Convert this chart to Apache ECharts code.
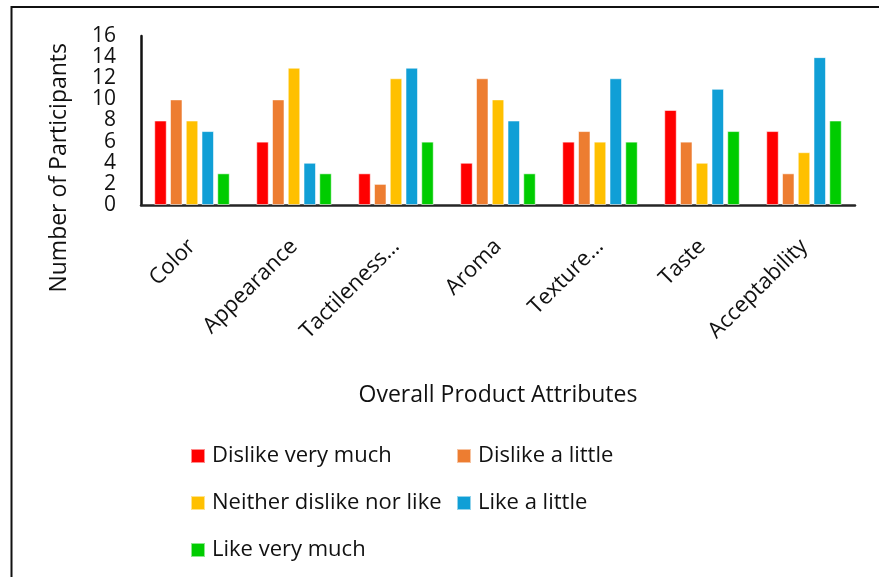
<!DOCTYPE html>
<html>
<head>
<meta charset="utf-8">
<script src="https://cdn.jsdelivr.net/npm/echarts@6/dist/echarts.min.js"></script>
<style>
  html, body { margin: 0; padding: 0; background: #fff; }
  #chart { width: 879px; height: 577px; }
</style>
</head>
<body>
<div id="chart"></div>
<script>
// Survey responses per product attribute
const categories = ['Color', 'Appearance', 'Tactileness…', 'Aroma', 'Texture…', 'Taste', 'Acceptability'];
const seriesNames = ['Dislike very much', 'Dislike a little', 'Neither dislike nor like', 'Like a little', 'Like very much'];
const dislikeVeryMuch = [8, 6, 3, 4, 6, 9, 7];
const dislikeALittle  = [10, 10, 2, 12, 7, 6, 3];
const neither         = [8, 13, 12, 10, 6, 4, 5];
const likeALittle     = [7, 4, 13, 8, 12, 11, 14];
const likeVeryMuch    = [3, 3, 6, 3, 6, 7, 8];
const yTicks = { min: 0, max: 16, interval: 2 };

const seriesValues = [dislikeVeryMuch, dislikeALittle, neither, likeALittle, likeVeryMuch];
const colors = ['#FF0000', '#ED7D31', '#FFC000', '#109FD6', '#00CC00'];
const FONT = '"Open Sans", "Noto Sans", sans-serif';

const chart = echarts.init(document.getElementById('chart'), null, { renderer: 'canvas' });

// legend laid out as a two-column grid, one legend component per entry
const legendSlots = [
  { left: 190, top: 445 },
  { left: 456, top: 445 },
  { left: 190, top: 492 },
  { left: 456, top: 492 },
  { left: 190, top: 539 }
];

const option = {
  backgroundColor: '#ffffff',
  animation: false,
  textStyle: { fontFamily: FONT },
  grid: { left: 141, right: 24, top: 36, bottom: 372, containLabel: false },
  legend: seriesNames.map((name, i) => ({
    data: [name],
    left: legendSlots[i].left,
    top: legendSlots[i].top,
    padding: 0,
    itemWidth: 14,
    itemHeight: 14,
    icon: 'rect',
    selectedMode: false,
    textStyle: { fontFamily: FONT, fontSize: 22, color: '#111', padding: [0, 0, 0, 2] }
  })),
  xAxis: {
    type: 'category',
    data: categories,
    name: 'Overall Product Attributes',
    nameLocation: 'middle',
    nameGap: 179,
    nameTextStyle: { fontFamily: FONT, fontSize: 23, color: '#111' },
    axisLine: { lineStyle: { color: '#262626', width: 2.5 } },
    axisTick: { show: false },
    axisLabel: {
      rotate: 45,
      interval: 0,
      margin: 38,
      fontFamily: FONT,
      fontSize: 22,
      color: '#111'
    }
  },
  yAxis: {
    type: 'value',
    min: yTicks.min,
    max: yTicks.max,
    interval: yTicks.interval,
    axisLine: { show: true, lineStyle: { color: '#111', width: 2.5 } },
    axisTick: { show: false },
    splitLine: { show: false },
    axisLabel: {
      fontFamily: FONT,
      fontSize: 21,
      color: '#111',
      margin: 25,
      showMinLabel: true,
      showMaxLabel: true
    }
  },
  graphic: [
    {
      type: 'rect',
      shape: { x: 11.5, y: 7, width: 900, height: 600 },
      style: { fill: 'none', stroke: '#111', lineWidth: 2 },
      silent: true
    },
    {
      type: 'text',
      left: 48,
      top: 43,
      rotation: Math.PI / 2,
      style: {
        text: 'Number of Participants',
        fontFamily: FONT,
        fontSize: 23,
        fill: '#111'
      },
      silent: true
    }
  ],
  series: seriesNames.map((name, i) => ({
    name: name,
    type: 'bar',
    data: seriesValues[i],
    barWidth: 12.5,
    barGap: '26%',
    itemStyle: {
      color: colors[i],
      borderColor: 'rgba(255,255,255,0.55)',
      borderWidth: 1
    }
  }))
};

chart.setOption(option);
</script>
</body>
</html>
